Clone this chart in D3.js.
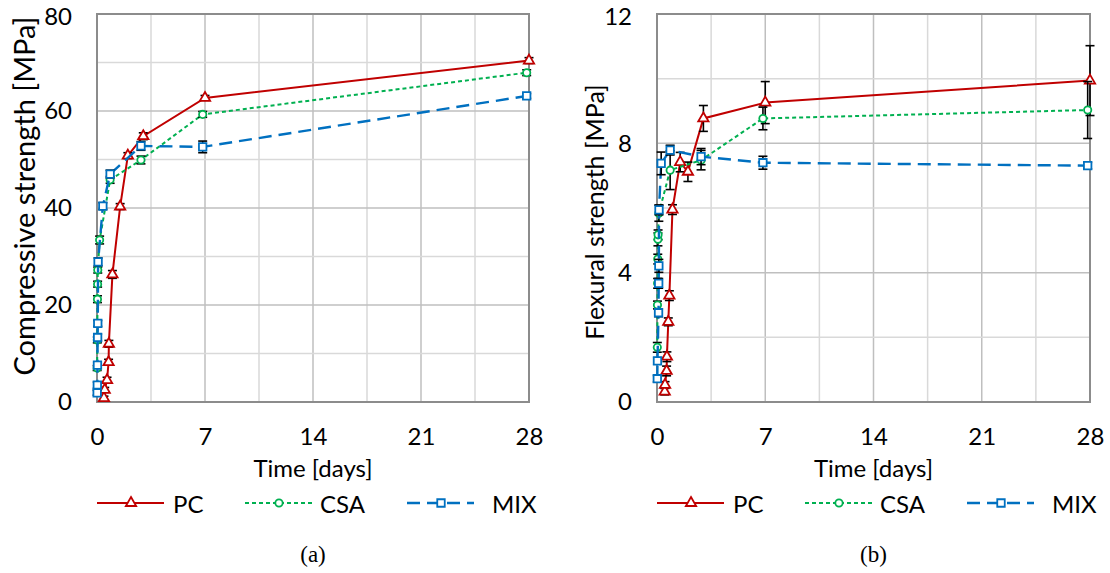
<!DOCTYPE html>
<html>
<head>
<meta charset="utf-8">
<script src="https://cdn.jsdelivr.net/npm/d3@7"></script>
<style>
  body { margin: 0; background: #fff; }
  text { fill: #000; }
</style>
</head>
<body>
<div id="chart"></div>
<script>

// shared
const timeTicks = [0, 7, 14, 21, 28];
const seriesNames = ["PC", "CSA", "MIX"];

// (a) compressive strength
const pcTimeA = [0.45, 0.5, 0.65, 0.75, 0.77, 1, 1.5, 2, 3, 7, 28];
const pcCompressive = [0.8, 2.5, 4.5, 8.2, 12.0, 26.3, 40.3, 50.8, 54.8, 62.7, 70.4];
const pcCompressiveErr = [0.4, 0.5, 0.6, 0.6, 0.7, 0.8, 0.6, 0.6, 0.7, 0.5, 0.6];

const csaTimeA = [0.01, 0.02, 0.03, 0.04, 0.05, 0.17, 0.85, 2.85, 6.85, 27.85];
const csaCompressive = [7.0, 12.8, 21.2, 24.3, 27.2, 33.4, 45.8, 49.9, 59.3, 67.9];
const csaCompressiveErr = [0.5, 0.6, 0.7, 0.6, 0.6, 0.8, 0.7, 0.8, 0.6, 0.6];

const mixTimeA = [0.01, 0.02, 0.03, 0.04, 0.05, 0.07, 0.38, 0.85, 2.85, 6.85, 27.85];
const mixCompressive = [1.9, 3.5, 7.6, 13.3, 16.2, 28.9, 40.4, 47.0, 52.8, 52.6, 63.1];
const mixCompressiveErr = [0.5, 0.6, 0.6, 0.7, 0.6, 0.8, 0.7, 0.8, 0.9, 1.2, 0.5];

const compressiveTicks = [0, 20, 40, 60, 80];

// (b) flexural strength
const pcTimeB = [0.5, 0.52, 0.62, 0.64, 0.73, 0.8, 1, 1.5, 2, 3, 7, 28];
const pcFlexural = [0.32, 0.53, 0.96, 1.40, 2.48, 3.29, 5.95, 7.42, 7.12, 8.77, 9.26, 9.94];
const pcFlexuralErr = [0.1, 0.1, 0.15, 0.15, 0.12, 0.15, 0.15, 0.3, 0.3, 0.4, 0.65, 1.08];

const csaTimeB = [0.02, 0.03, 0.04, 0.05, 0.06, 0.07, 0.12, 0.85, 2.85, 6.85, 27.85];
const csaFlexural = [1.69, 3.0, 3.67, 4.42, 5.03, 5.17, 5.84, 7.17, 7.48, 8.77, 9.03];
const csaFlexuralErr = [0.15, 0.12, 0.15, 0.15, 0.2, 0.15, 0.25, 0.6, 0.3, 0.35, 0.88];

const mixTimeB = [0.02, 0.03, 0.1, 0.11, 0.12, 0.13, 0.27, 0.85, 2.85, 6.85, 27.85];
const mixFlexural = [0.72, 1.27, 2.76, 3.67, 4.21, 5.94, 7.38, 7.79, 7.59, 7.40, 7.31];
const mixFlexuralErr = [0.1, 0.1, 0.12, 0.15, 0.2, 0.15, 0.35, 0.15, 0.25, 0.2, 0.1];

const flexuralTicks = [0, 4, 8, 12];

// styles per series
let styles = {
    PC:  {color: "#c00000", dash: null,    width: 2,   symbol: d3.symbolTriangle, size: 46},
    CSA: {color: "#00b050", dash: "4,3",   width: 2,   symbol: d3.symbolCircle,   size: 42},
    MIX: {color: "#0070c0", dash: "13,7",  width: 2.4, symbol: d3.symbolSquare,   size: 56}
};

let font = "Lato, 'Open Sans', sans-serif";

let zip = (t, v, e) => t.map((d, i) => ({t: d, v: v[i], e: e[i]}));

let panels = [
    {
        left: 97, right: 529, top: 14, bottom: 402,
        yTicks: compressiveTicks, minorStep: 10,
        title: "Compressive strength [MPa]", titleX: 23, titleY: 196, titleSize: 29,
        caption: "(a)",
        series: [
            zip(pcTimeA, pcCompressive, pcCompressiveErr),
            zip(csaTimeA, csaCompressive, csaCompressiveErr),
            zip(mixTimeA, mixCompressive, mixCompressiveErr)
        ]
    },
    {
        left: 657, right: 1090, top: 14, bottom: 402,
        yTicks: flexuralTicks, minorStep: 2,
        title: "Flexural strength [MPa]", titleX: 594, titleY: 212, titleSize: 25,
        caption: "(b)",
        series: [
            zip(pcTimeB, pcFlexural, pcFlexuralErr),
            zip(csaTimeB, csaFlexural, csaFlexuralErr),
            zip(mixTimeB, mixFlexural, mixFlexuralErr)
        ]
    }
];

let svg = d3.select("#chart")
    .append("svg")
    .attr("width", 1110)
    .attr("height", 573);

panels.forEach(p => {
    let yMax = d3.max(p.yTicks);
    let majorStep = p.yTicks[1] - p.yTicks[0];

    let x = d3.scaleLinear().domain([0, 28]).range([p.left, p.right]);
    let y = d3.scaleLinear().domain([0, yMax]).range([p.bottom, p.top]);

    let g = svg.append("g");

    // grid, minor then major
    let xGrid = d3.range(0, 28.001, 3.5);
    let yGrid = d3.range(0, yMax + 0.001, p.minorStep);

    g.selectAll(".vgrid")
        .data(xGrid)
        .enter().append("line")
        .attr("x1", d => x(d)).attr("x2", d => x(d))
        .attr("y1", p.top).attr("y2", p.bottom)
        .attr("stroke", d => d % 7 === 0 ? "#bfbfbf" : "#d9d9d9")
        .attr("stroke-width", 1.5);

    g.selectAll(".hgrid")
        .data(yGrid)
        .enter().append("line")
        .attr("x1", p.left).attr("x2", p.right)
        .attr("y1", d => y(d)).attr("y2", d => y(d))
        .attr("stroke", d => Math.abs(d % majorStep) < 1e-6 ? "#bfbfbf" : "#d9d9d9")
        .attr("stroke-width", 1.5);

    g.append("rect")
        .attr("x", p.left).attr("y", p.top)
        .attr("width", p.right - p.left)
        .attr("height", p.bottom - p.top)
        .attr("fill", "none")
        .attr("stroke", "#8c8c8c")
        .attr("stroke-width", 2);

    // axes
    let xAxis = g.append("g")
        .attr("transform", "translate(0," + p.bottom + ")")
        .call(d3.axisBottom(x).tickValues(timeTicks).tickSize(0).tickPadding(26));
    let yAxis = g.append("g")
        .attr("transform", "translate(" + p.left + ",0)")
        .call(d3.axisLeft(y).tickValues(p.yTicks).tickSize(0).tickPadding(25));

    [xAxis, yAxis].forEach(a => {
        a.select(".domain").remove();
        a.attr("font-family", font).attr("font-size", 24);
        a.selectAll("text").attr("fill", "#000");
    });
    // keep the top label inside the page
    yAxis.selectAll(".tick text").attr("dy", d => d === yMax ? "0.42em" : "0.32em");

    g.append("text")
        .attr("x", (p.left + p.right) / 2)
        .attr("y", 477)
        .attr("text-anchor", "middle")
        .attr("font-family", font)
        .attr("font-size", 24)
        .text("Time [days]");

    g.append("text")
        .attr("transform", "translate(" + p.titleX + "," + p.titleY + ") rotate(-90)")
        .attr("text-anchor", "middle")
        .attr("dominant-baseline", "central")
        .attr("font-family", font)
        .attr("font-size", p.titleSize)
        .text(p.title);

    // series
    let line = d3.line().x(d => x(d.t)).y(d => y(d.v));

    p.series.forEach((data, i) => {
        let s = styles[seriesNames[i]];

        g.append("path")
            .datum(data)
            .attr("d", line)
            .attr("fill", "none")
            .attr("stroke", s.color)
            .attr("stroke-width", s.width)
            .attr("stroke-dasharray", s.dash);

        let bars = g.append("g").selectAll("g")
            .data(data)
            .enter().append("g")
            .attr("stroke", "#000")
            .attr("stroke-width", 1.6);

        bars.append("line")
            .attr("x1", d => x(d.t)).attr("x2", d => x(d.t))
            .attr("y1", d => y(d.v - d.e)).attr("y2", d => y(d.v + d.e));
        bars.append("line")
            .attr("x1", d => x(d.t) - 4.5).attr("x2", d => x(d.t) + 4.5)
            .attr("y1", d => y(d.v - d.e)).attr("y2", d => y(d.v - d.e));
        bars.append("line")
            .attr("x1", d => x(d.t) - 4.5).attr("x2", d => x(d.t) + 4.5)
            .attr("y1", d => y(d.v + d.e)).attr("y2", d => y(d.v + d.e));

        g.append("g").selectAll("path")
            .data(data)
            .enter().append("path")
            .attr("transform", d => "translate(" + x(d.t) + "," + y(d.v) + ")")
            .attr("d", d3.symbol().type(s.symbol).size(s.size))
            .attr("fill", "#fff")
            .attr("stroke", s.color)
            .attr("stroke-width", 1.8);
    });

    // legend
    let legendX = [0, 148, 310];
    let labelX = [76, 75, 85];
    let legend = g.append("g")
        .attr("transform", "translate(" + p.left + ",503)");

    seriesNames.forEach((name, i) => {
        let s = styles[name];
        legend.append("line")
            .attr("x1", legendX[i]).attr("x2", legendX[i] + 67)
            .attr("y1", 0).attr("y2", 0)
            .attr("stroke", s.color)
            .attr("stroke-width", s.width)
            .attr("stroke-dasharray", s.dash);
        legend.append("path")
            .attr("transform", "translate(" + (legendX[i] + 34) + ",0)")
            .attr("d", d3.symbol().type(s.symbol).size(s.size))
            .attr("fill", "#fff")
            .attr("stroke", s.color)
            .attr("stroke-width", 1.8);
        legend.append("text")
            .attr("x", legendX[i] + labelX[i])
            .attr("y", 0)
            .attr("dominant-baseline", "central")
            .attr("font-family", font)
            .attr("font-size", 24)
            .text(name);
    });

    g.append("text")
        .attr("x", (p.left + p.right) / 2)
        .attr("y", 562)
        .attr("text-anchor", "middle")
        .attr("font-family", "'Liberation Serif', 'Times New Roman', serif")
        .attr("font-size", 23)
        .text(p.caption);
});

</script>
</body>
</html>
